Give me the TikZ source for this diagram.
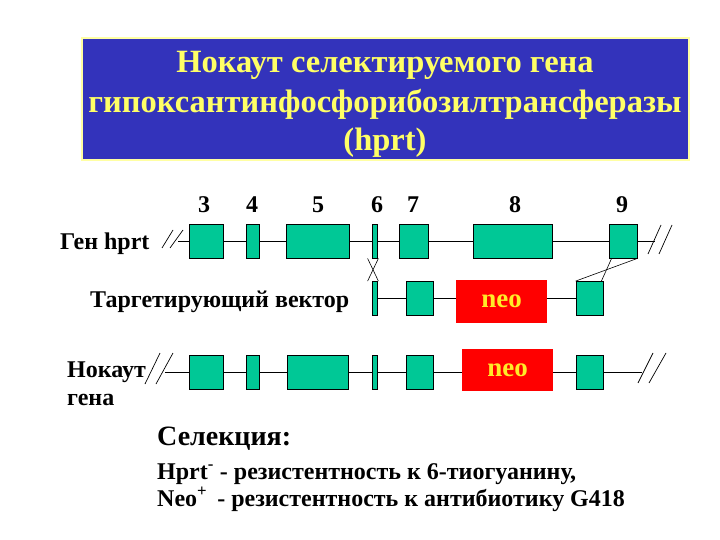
\documentclass[tikz,border=0pt]{standalone}
\usepackage{fontspec}
\setmainfont{Liberation Serif}
\usetikzlibrary{calc}
\definecolor{exong}{RGB}{0,200,150}
\definecolor{titlebg}{RGB}{51,51,187}
\definecolor{titlefg}{RGB}{255,255,102}
\definecolor{neored}{RGB}{255,0,0}
\definecolor{neofg}{RGB}{255,235,40}
\tikzset{
  exon/.style={draw=black, fill=exong, line width=0.8pt, inner sep=0pt, minimum height=34pt},
  neobox/.style={fill=neored, inner sep=0pt, text=neofg, font=\fontsize{27}{29}\selectfont\bfseries},
  ln/.style={line width=0.8pt},
  brk/.style={line width=0.7pt},
  lbl/.style={inner sep=0pt, anchor=base west, font=\fontsize{24}{26}\selectfont\bfseries},
  num/.style={inner sep=0pt, anchor=base, font=\fontsize{24}{26}\selectfont\bfseries},
  ttl/.style={inner sep=0pt, anchor=base, text=titlefg, font=\fontsize{32.5}{35}\selectfont\bfseries},
  sel/.style={inner sep=0pt, anchor=base west, font=\fontsize{24}{28}\selectfont\bfseries}
}
\begin{document}
\begin{tikzpicture}[x=1pt,y=-1pt]
\useasboundingbox (0,0) rectangle (720,540);
% title
\node[draw=titlefg!60, line width=1.5pt, fill=titlebg, minimum width=607pt, minimum height=122pt, inner sep=0pt] (tbox) at (385.5,99) {};
\node[ttl] (t1) at (385,73) {Нокаут селектируемого гена};
\node[ttl] (t2) at (385,113) {гипоксантинфосфорибозилтрансферазы};
\node[ttl] (t3) at (385,151) {(hprt)};
% exon numbers
\node[num] (n3) at (204,213) {3};
\node[num] (n4) at (252,213) {4};
\node[num] (n5) at (318,213) {5};
\node[num] (n6) at (377,213) {6};
\node[num] (n7) at (413,213) {7};
\node[num] (n8) at (515,213) {8};
\node[num] (n9) at (622,213) {9};
% gene row
\node[lbl] (lg) at (60,249) {Ген hprt};
\node[exon, minimum width=34pt] (g3) at (206,241) {};
\node[exon, minimum width=13pt] (g4) at (252.5,241) {};
\node[exon, minimum width=63pt] (g5) at (317.5,241) {};
\node[exon, minimum width=5pt] (g6) at (374.5,241) {};
\node[exon, minimum width=29pt] (g7) at (413.5,241) {};
\node[exon, minimum width=79pt] (g8) at (512.5,241) {};
\node[exon, minimum width=28pt] (g9) at (623,241) {};
\coordinate (gL) at (178,241);
\coordinate (gR) at (655,241);
\draw[ln] (gL) -- (g3) (g3) -- (g4) (g4) -- (g5) (g5) -- (g6) (g6) -- (g7) (g7) -- (g8) (g8) -- (g9) (g9) -- (gR);
\draw[brk] (162,248) -- (173,230) (170,248) -- (183,230);
\draw[brk] (648,254) -- (661,225) (659,254) -- (672,225);
% vector row
\node[lbl] (lv) at (90,307) {Таргетирующий вектор};
\node[exon, minimum width=5pt] (v6) at (374.5,298.5) {};
\node[exon, minimum width=27pt] (v7) at (419.5,298.5) {};
\node[neobox, minimum width=91pt, minimum height=43pt] (v8) at (501.5,301.5) {neo};
\node[exon, minimum width=27pt] (v9) at (589.5,298.5) {};
\draw[ln] (v6) -- (v7) (v7.east) -- (v7.east -| v8.west) (v9.west -| v8.east) -- (v9.west);
% crossovers
\draw[line width=0.6pt] ($(g6.south west)+(-4,0)$) -- ($(v6.north east)+(1,0)$);
\draw[line width=0.6pt] ($(g6.south east)+(1,0)$) -- ($(v6.north west)+(-4,0)$);
\draw[line width=0.6pt] ($(g9.south west)+(3,0)$) -- ($(v9.north east)+(-2,0)$);
\draw[line width=0.6pt] (g9.south east) -- (v9.north west);
% knockout row
\node[lbl] (lk1) at (67,377) {Нокаут};
\node[lbl] (lk2) at (67,405) {гена};
\node[exon, minimum width=34pt] (k3) at (206,372) {};
\node[exon, minimum width=13pt] (k4) at (252.5,372) {};
\node[exon, minimum width=61pt] (k5) at (317.5,372) {};
\node[exon, minimum width=5pt] (k6) at (374.5,372) {};
\node[exon, minimum width=27pt] (k7) at (419.5,372) {};
\node[neobox, minimum width=91pt, minimum height=42pt] (k8) at (507.5,370) {neo};
\node[exon, minimum width=27pt] (k9) at (589.5,372) {};
\coordinate (kL) at (165,372);
\coordinate (kR) at (642,372);
\draw[ln] (kL) -- (k3) (k3) -- (k4) (k4) -- (k5) (k5) -- (k6) (k6) -- (k7) (k7.east) -- (k7.east -| k8.west) (k9.west -| k8.east) -- (k9.west) (k9) -- (kR);
\draw[brk] (145,384) -- (160,353) (156,384) -- (173,353);
\draw[brk] (638,383) -- (653,353) (649,383) -- (666,353);
% selection
\node[sel, font=\fontsize{28}{30}\selectfont\bfseries] (s0) at (157,445) {Селекция:};
\node[sel] (s1) at (157,479) {Hprt\textsuperscript{-} - резистентность к 6-тиогуанину,};
\node[sel] (s2) at (157,506) {Neo\textsuperscript{+}\, - резистентность к антибиотику G418};
\end{tikzpicture}
\end{document}
